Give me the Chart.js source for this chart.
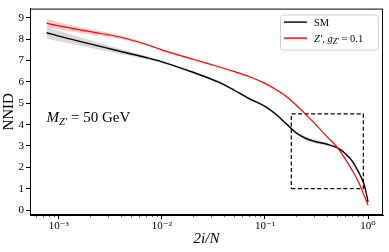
<!DOCTYPE html>
<html>
<head>
<meta charset="utf-8">
<script src="https://cdn.jsdelivr.net/npm/chart.js@4/dist/chart.umd.min.js"></script>
<style>
  html, body { margin: 0; padding: 0; background: #fff; }
  #wrap { width: 389px; height: 252px; }
</style>
</head>
<body>
<div id="wrap"><canvas id="nnid" width="389" height="252"></canvas></div>
<script>
// values
var xs        = [0.00076, 0.001, 0.002, 0.004, 0.007, 0.01, 0.02, 0.035, 0.05, 0.07, 0.1, 0.13, 0.16, 0.2, 0.25, 0.3, 0.4, 0.5, 0.6, 0.7, 0.8, 0.9, 0.95, 1.0];
var smValues  = [8.3, 8.14, 7.78, 7.42, 7.14, 6.94, 6.45, 6.0, 5.62, 5.22, 4.85, 4.45, 4.05, 3.62, 3.35, 3.22, 3.08, 2.92, 2.65, 2.3, 1.82, 1.3, 0.9, 0.38];
var smError   = [0.27, 0.24, 0.18, 0.12, 0.08, 0.06, 0.05, 0.05, 0.05, 0.05, 0.05, 0.05, 0.06, 0.08, 0.1, 0.09, 0.06, 0.05, 0.04, 0.04, 0.04, 0.03, 0.03, 0.02];
var zpValues  = [8.75, 8.62, 8.35, 8.09, 7.76, 7.5, 7.06, 6.72, 6.49, 6.25, 5.93, 5.62, 5.33, 4.92, 4.47, 4.08, 3.44, 2.95, 2.4, 1.87, 1.36, 0.78, 0.5, 0.23];
var zpError   = [0.2, 0.17, 0.12, 0.08, 0.05, 0.04, 0.03, 0.03, 0.03, 0.02, 0.02, 0.02, 0.02, 0.02, 0.02, 0.02, 0.02, 0.02, 0.02, 0.02, 0.02, 0.02, 0.02, 0.02];

var xMajorTicks = [0.001, 0.01, 0.1, 1];
var xTickLabels = ['10\u207B\u00B3', '10\u207B\u00B2', '10\u207B\u00B9', '10\u2070'];
var yTicks      = [0, 1, 2, 3, 4, 5, 6, 7, 8, 9];

var boxX = [0.18, 0.9];
var boxY = [1.0, 4.5];

var SERIF = '"Liberation Serif", "DejaVu Serif", serif';

function points(values, offsets, sign) {
  return xs.map(function (x, i) {
    var off = offsets ? sign * offsets[i] : 0;
    return { x: x, y: values[i] + off };
  });
}

function band(values, errors, colour) {
  return [
    { data: points(values, errors, 1), fill: '+1', backgroundColor: colour, borderWidth: 0, pointRadius: 0, order: 2, cubicInterpolationMode: 'monotone' },
    { data: points(values, errors, -1), fill: false, borderWidth: 0, pointRadius: 0, order: 2, cubicInterpolationMode: 'monotone' }
  ];
}

function drawRich(ctx, x, y, parts) {
  parts.forEach(function (p) {
    ctx.font = p.font;
    ctx.fillText(p.t, x, y + (p.dy || 0));
    x += ctx.measureText(p.t).width;
  });
}

var extras = {
  id: 'extras',
  afterDraw: function (chart) {
    var ctx = chart.ctx, area = chart.chartArea;
    var xScale = chart.scales.x, yScale = chart.scales.y;
    ctx.save();

    // frame round the axes
    ctx.strokeStyle = '#000';
    ctx.lineWidth = 1;
    ctx.strokeRect(area.left + 0.5, area.top + 0.5, area.width - 1, area.height - 1);

    // minor log ticks
    ctx.lineWidth = 0.6;
    for (var e = -4; e <= 0; e++) {
      for (var m = 2; m <= 9; m++) {
        var v = m * Math.pow(10, e);
        if (v < xScale.min || v > xScale.max) continue;
        var px = Math.round(xScale.getPixelForValue(v)) + 0.5;
        ctx.beginPath();
        ctx.moveTo(px, area.bottom);
        ctx.lineTo(px, area.bottom + 2.2);
        ctx.stroke();
      }
    }

    // annotation
    ctx.fillStyle = '#000';
    ctx.textBaseline = 'alphabetic';
    var ax = xScale.getPixelForValue(xs[0]);
    var ay = yScale.getPixelForValue(4.1);
    drawRich(ctx, ax, ay, [
      { t: 'M', font: 'italic 15px ' + SERIF },
      { t: 'Z\u2032', font: 'italic 10.5px ' + SERIF, dy: 3 },
      { t: ' = 50 GeV', font: '15px ' + SERIF }
    ]);

    // legend
    var lw = 98, lh = 35;
    var lx = area.right - 5 - lw, ly = area.top + 6;
    ctx.beginPath();
    ctx.roundRect(lx + 0.5, ly + 0.5, lw, lh, 3);
    ctx.fillStyle = 'rgba(255,255,255,0.8)';
    ctx.fill();
    ctx.strokeStyle = '#d0d0d0';
    ctx.lineWidth = 1;
    ctx.stroke();

    var rows = [
      { colour: '#000', y: ly + 7.5 },
      { colour: '#ff0000', y: ly + 23.5 }
    ];
    rows.forEach(function (r) {
      ctx.strokeStyle = r.colour;
      ctx.lineWidth = 1.4;
      ctx.beginPath();
      ctx.moveTo(lx + 4, r.y);
      ctx.lineTo(lx + 27, r.y);
      ctx.stroke();
    });
    ctx.fillStyle = '#000';
    drawRich(ctx, lx + 34, rows[0].y + 3.5, [
      { t: 'SM', font: '10.5px ' + SERIF }
    ]);
    drawRich(ctx, lx + 34, rows[1].y + 3.5, [
      { t: 'Z\u2032, ', font: 'italic 10.5px ' + SERIF },
      { t: 'g', font: 'italic 10.5px ' + SERIF },
      { t: 'Z\u2032', font: 'italic 8px ' + SERIF, dy: 2.5 },
      { t: ' = 0.1', font: '10.5px ' + SERIF }
    ]);

    ctx.restore();
  }
};

var datasets = []
  .concat(band(smValues, smError, 'rgba(128,128,128,0.3)'))
  .concat(band(zpValues, zpError, 'rgba(255,0,0,0.2)'))
  .concat([
    { data: points(smValues), borderColor: '#000', borderWidth: 1.4, pointRadius: 0, fill: false, order: 1, cubicInterpolationMode: 'monotone' },
    { data: points(zpValues), borderColor: '#ff0000', borderWidth: 1.2, pointRadius: 0, fill: false, order: 0, cubicInterpolationMode: 'monotone' },
    {
      data: [
        { x: boxX[0], y: boxY[0] }, { x: boxX[1], y: boxY[0] },
        { x: boxX[1], y: boxY[1] }, { x: boxX[0], y: boxY[1] },
        { x: boxX[0], y: boxY[0] }
      ],
      borderColor: '#000', borderWidth: 1.2, borderDash: [4, 2.5], pointRadius: 0, fill: false, tension: 0, order: 0
    }
  ]);

new Chart(document.getElementById('nnid'), {
  type: 'line',
  data: { datasets: datasets },
  options: {
    responsive: false,
    animation: false,
    devicePixelRatio: 1,
    layout: { padding: { top: 4, right: 6, left: 0, bottom: 0 } },
    plugins: { legend: { display: false }, tooltip: { enabled: false } },
    scales: {
      x: {
        type: 'logarithmic',
        min: Math.pow(10, -3.28),
        max: Math.pow(10, 0.145),
        afterFit: function (scale) { scale.height = 37; },
        afterBuildTicks: function (scale) {
          scale.ticks = xMajorTicks.map(function (v) { return { value: v, major: true }; });
        },
        ticks: {
          autoSkip: false,
          maxRotation: 0,
          padding: 1,
          color: '#000',
          font: { family: SERIF, size: 11 },
          callback: function (value) {
            var i = xMajorTicks.indexOf(value);
            return i >= 0 ? xTickLabels[i] : '';
          }
        },
        grid: { drawOnChartArea: false, drawTicks: true, tickLength: 4, color: '#000' },
        border: { display: true, color: '#000', width: 1 },
        title: {
          display: true,
          text: '2i/N',
          color: '#000',
          font: { family: SERIF, size: 15, style: 'italic' },
          padding: { top: 0, bottom: 4 }
        }
      },
      y: {
        type: 'linear',
        min: -0.23,
        max: 9.43,
        afterFit: function (scale) { scale.width = 30; },
        afterBuildTicks: function (scale) {
          scale.ticks = yTicks.map(function (v) { return { value: v }; });
        },
        ticks: {
          autoSkip: false,
          padding: 2,
          color: '#000',
          font: { family: SERIF, size: 11 }
        },
        grid: { drawOnChartArea: false, drawTicks: true, tickLength: 4, color: '#000' },
        border: { display: true, color: '#000', width: 1 },
        title: {
          display: true,
          text: 'NNID',
          color: '#000',
          font: { family: SERIF, size: 15 },
          padding: { top: 0, bottom: 0 }
        }
      }
    }
  },
  plugins: [extras]
});
</script>
</body>
</html>
